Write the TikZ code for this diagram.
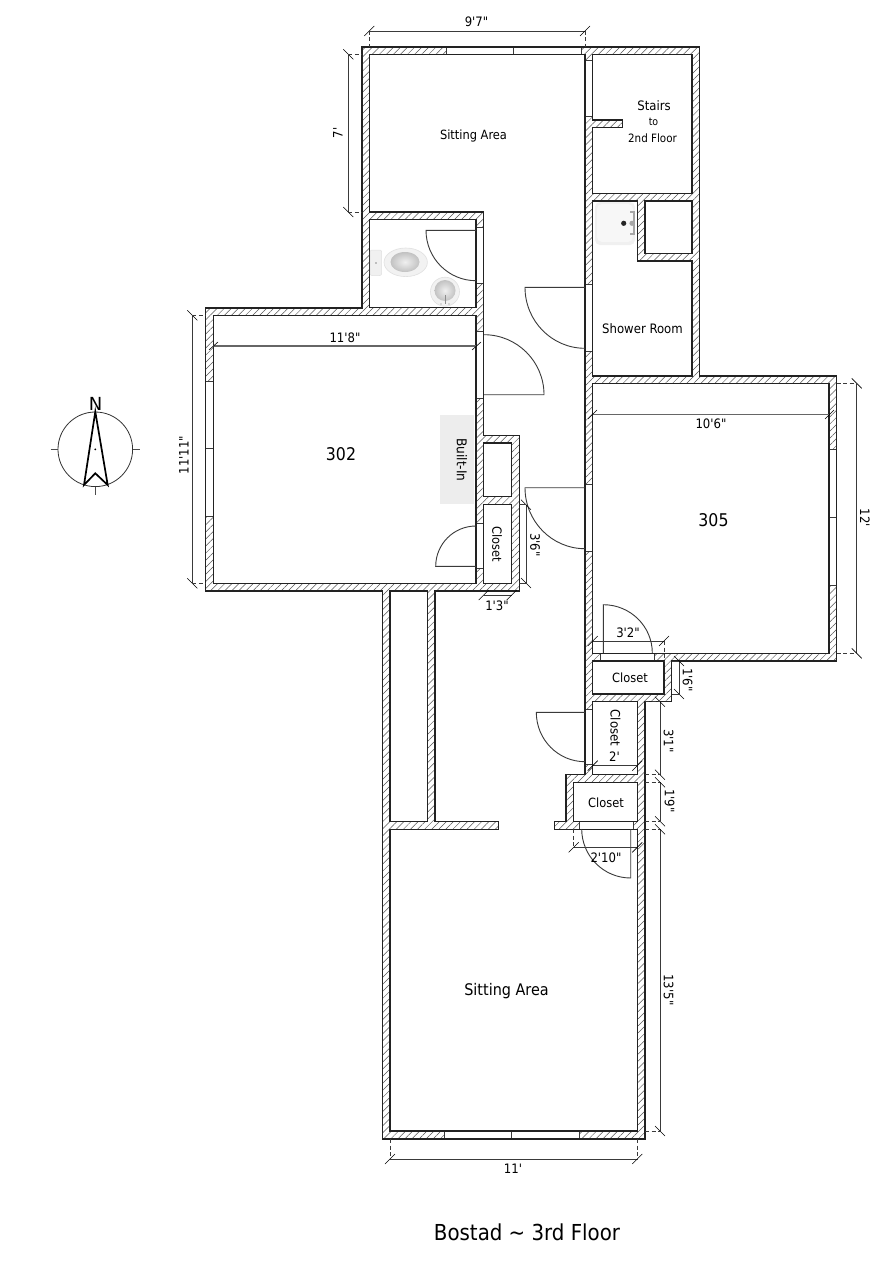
\documentclass[tikz,border=0pt]{standalone}
\usepackage{fontspec}
\usetikzlibrary{patterns.meta}
\newfontfamily\lf{DejaVu Sans Condensed}
\newfontfamily\nf{DejaVu Sans}
\definecolor{wallink}{HTML}{222222}
\definecolor{dimink}{HTML}{3A3A3A}
\definecolor{hatchink}{HTML}{555555}
\tikzset{
  wallfill/.style={even odd rule,pattern={Lines[angle=45,distance=5pt,line width=.5pt]},pattern color=hatchink},
  wallline/.style={draw=wallink,line width=1.1pt,line join=miter},
  opening/.style={fill=white,draw=dimink,line width=.5pt},
  doorline/.style={draw=dimink,line width=.9pt},
  dimline/.style={draw=dimink,line width=.8pt},
  tickline/.style={draw=black,line width=.6pt},
  extline/.style={draw=dimink,line width=.7pt,dash pattern=on 4pt off 2.5pt},
}
\newcommand{\walls}{
  (362,47) -- (699.3,47) -- (699.3,376) -- (836.7,376) -- (836.7,661) -- (671.5,661) -- (671.5,701.7) -- (645,701.7) -- (645,1139) -- (382.7,1139) -- (382.7,591) -- (205.7,591) -- (205.7,308) -- (362,308) -- cycle
  (369.3,54.3) -- (585,54.3) -- (585,774.7) -- (566,774.7) -- (566,821.3) -- (554.7,821.3) -- (554.7,829.3) -- (637.3,829.3) -- (637.3,1131) -- (390,1131) -- (390,829.3) -- (498.7,829.3) -- (498.7,821.3) -- (435,821.3) -- (435,591) -- (519.3,591) -- (519.3,435.3) -- (483.7,435.3) -- (483.7,212) -- (369.3,212) -- cycle
  (369.3,219.7) rectangle (476,307.3)
  (213.3,315.3) rectangle (476,583.3)
  (483.7,443) rectangle (511.7,496.7)
  (483.7,504.7) rectangle (511.7,583.3)
  (390,591) rectangle (427.3,821.3)
  (592.3,54.3) -- (692,54.3) -- (692,193.3) -- (592.3,193.3) -- (592.3,127.7) -- (622.7,127.7) -- (622.7,120) -- (592.3,120) -- cycle
  (592.3,201) -- (637.3,201) -- (637.3,261) -- (692,261) -- (692,376) -- (592.3,376) -- cycle
  (645,201) rectangle (692,253.3)
  (592.5,383.3) rectangle (829,653.3)
  (592.5,661) rectangle (664,694)
  (592.5,701.7) rectangle (637.3,774.7)
  (573.7,782.3) rectangle (637.3,821.3)
}
\newcommand{\vwin}[3]{\path[opening] (#1,#2) rectangle ({#1+7.6},#3);}
\newcommand{\hwin}[3]{\path[opening] (#2,#1) rectangle (#3,{#1+7.6});}
\newcommand{\doorh}[4]{\path[doorline] (#1,#2) -- ({#1+#3},#2) .. controls ({#1+#3},{#2+.5523*#4}) and ({#1+.5523*#3},{#2+#4}) .. (#1,{#2+#4});}
\newcommand{\doorv}[4]{\path[doorline] (#1,#2) -- (#1,{#2+#4}) .. controls ({#1+.5523*#3},{#2+#4}) and ({#1+#3},{#2+.5523*#4}) .. ({#1+#3},#2);}
\newcommand{\dimh}[3]{\path[dimline] (#1,#3) -- (#2,#3);
  \path[tickline] ({#1-5},{#3+5}) -- ({#1+5},{#3-5}) ({#2-5},{#3+5}) -- ({#2+5},{#3-5});}
\newcommand{\dimv}[3]{\path[dimline] (#1,#2) -- (#1,#3);
  \path[tickline] ({#1-5},{#2-5}) -- ({#1+5},{#2+5}) ({#1-5},{#3-5}) -- ({#1+5},{#3+5});}
\newcommand{\lab}[6]{\node[inner sep=0pt,rotate=#5,font=\lf\fontsize{#4}{#4}\selectfont] (#1) at (#2,#3) {#6};}
\begin{document}
\begin{tikzpicture}[x=1pt,y=-1pt]
\path[use as bounding box,fill=white] (0,0) rectangle (875,1268);
% built-in shelf backdrop
\path[fill=black!7] (440,415) rectangle (474,504);
% walls
\path[wallfill] \walls;
% openings
\hwin{46.7}{446}{581.3}
\hwin{46.7}{513.7}{581.3}
\hwin{1131.2}{444}{579.3}
\hwin{1131.2}{511.7}{579.3}
\vwin{205.7}{381}{516}
\vwin{205.7}{448.7}{516}
\vwin{829.1}{449.3}{585}
\vwin{829.1}{517.3}{585}
\vwin{585}{60}{116.7}
\vwin{476}{227.3}{283.3}
\vwin{476}{331.7}{398.7}
\vwin{476}{523.3}{568.3}
\vwin{585}{284}{351.7}
\vwin{585}{484.3}{551.7}
\vwin{585}{709.3}{764}
\hwin{653.4}{600.7}{654}
\hwin{821.5}{579.3}{633.3}
\path[wallline,even odd rule] \walls;
% doors
\doorh{476}{230.3}{-50}{50.4}
\doorh{585}{287.3}{-60}{61}
\doorh{484}{394.7}{60}{-60}
\doorh{585}{487.7}{-60}{61}
\doorh{476}{566.3}{-40.3}{-40.3}
\doorh{585}{712.3}{-48.7}{49.4}
\doorv{603.3}{653}{49}{-48.3}
\doorv{630.7}{829}{-49}{49}
% toilet
\path[fill=black!6,draw=black!12,line width=.5pt,rounded corners=2pt] (370,250) rectangle (381.7,275.5);
\path[fill=black!45] (376,263) circle (.9);
\path[fill=black!5,draw=black!12,line width=.6pt] (405.7,262.3) ellipse [x radius=21.7,y radius=14.3];
\path[inner color=black!6,outer color=black!24] (405,262) ellipse [x radius=14.5,y radius=10];
% basin
\path[fill=black!5,draw=black!12,line width=.6pt] (445,291.7) ellipse [x radius=14.5,y radius=14.5];
\path[inner color=black!6,outer color=black!24] (445,290.5) ellipse [x radius=10.5,y radius=10.5];
\path[draw=black!45,line width=.8pt] (445,295) -- (445,304);
\path[fill=black!50] (441,304) circle (.7) (449,304) circle (.7);
% sink
\path[fill=black!6,rounded corners=5pt] (595,202) rectangle (635,245);
\path[fill=black!3,rounded corners=5pt] (597,204) rectangle (633,242);
\path[fill=black!85] (623.7,223.3) circle (2.6);
\path[draw=black!35,line width=1.6pt] (630,212) -- (634,212) -- (634,234) -- (630,234);
\path[fill=black!35] (632,223.3) circle (2.6);
% dimensions
\dimh{369.3}{585}{31}
\path[extline] (369.3,31) -- (369.3,47) (585,31) -- (585,47);
\lab{dTop}{476.5}{22}{13}{0}{9'7"}
\dimv{348.3}{54.3}{212}
\path[extline] (348.3,54.3) -- (362,54.3) (348.3,212) -- (362,212);
\lab{dSeven}{338}{133}{13}{90}{7'}
\dimv{192.3}{315.3}{583.3}
\path[extline] (192.3,315.3) -- (205.7,315.3) (192.3,583.3) -- (205.7,583.3);
\lab{dA}{184}{455}{13}{90}{11'11"}
\path[dimline,line width=1.2pt,draw=black!60] (213.3,346) -- (476,346);
\path[tickline] (209,350) -- (218,342) (472,350) -- (481,342);
\lab{dB}{345}{337.5}{13}{0}{11'8"}
\path[dimline,line width=1.2pt,draw=black!60] (592.7,414.7) -- (829,414.7);
\path[tickline] (588,419) -- (597,410) (825,419) -- (834,410);
\lab{dC}{711}{424}{13}{0}{10'6"}
\dimv{856.7}{383.3}{653.3}
\path[extline] (836.7,383.3) -- (856.7,383.3) (836.7,653.3) -- (856.7,653.3);
\lab{dD}{865}{518}{13}{-90}{12'}
\dimv{526}{504.7}{583}
\path[dimline,line width=.5pt] (519.3,504.7) -- (526,504.7) (519.3,583) -- (526,583);
\lab{dE}{535}{545}{13}{-90}{3'6"}
\dimh{483.7}{511.7}{595}
\lab{dF}{497}{605.5}{13}{0}{1'3"}
\dimh{592.7}{664}{641}
\path[extline] (664,641) -- (664,661);
\lab{dG}{628}{633}{13}{0}{3'2"}
\dimv{679}{661}{694}
\path[dimline,line width=.5pt] (671.5,661) -- (679,661) (671.5,694) -- (679,694);
\lab{dH}{687.5}{680}{13}{-90}{1'6"}
\dimv{660}{701.7}{774.7}
\path[extline] (645,701.7) -- (660,701.7) (645,774.7) -- (660,774.7);
\lab{dI}{668.5}{741}{13}{-90}{3'1"}
\dimh{592.7}{637.3}{765.7}
\lab{dJ}{614.5}{757}{13}{0}{2'}
\dimv{660}{782.3}{821.3}
\path[extline] (645,782.3) -- (660,782.3) (645,821.3) -- (660,821.3);
\lab{dK}{669.5}{801}{13}{-90}{1'9"}
\dimv{660}{829.3}{1131}
\path[extline] (645,829.3) -- (660,829.3) (645,1131) -- (660,1131);
\lab{dL}{668.5}{990}{13}{-90}{13'5"}
\dimh{573.7}{637.3}{847.3}
\path[extline] (573.7,829.3) -- (573.7,847.3);
\lab{dM}{606}{858}{13}{0}{2'10"}
\dimh{390}{637.3}{1159}
\path[extline] (390,1139) -- (390,1159) (637.3,1139) -- (637.3,1159);
\lab{dN}{513}{1169}{13}{0}{11'}
% room labels
\lab{rA}{473.5}{136}{12.7}{0}{Sitting Area}
\lab{rB}{654}{105.5}{13}{0}{Stairs}
\lab{rC}{653.5}{122}{10.5}{0}{to}
\lab{rD}{652.5}{138}{11.5}{0}{2nd Floor}
\lab{rE}{642.5}{328.5}{13}{0}{Shower Room}
\lab{rF}{341}{454}{17.5}{0}{302}
\lab{rG}{713.5}{520.5}{17.5}{0}{305}
\lab{rH}{630}{678}{12.7}{0}{Closet}
\lab{rI}{615.5}{728}{13}{-90}{Closet}
\lab{rJ}{462}{460}{13.5}{-90}{Built-In}
\lab{rK}{497}{544.5}{12.7}{-90}{Closet}
\lab{rL}{606}{803}{12.7}{0}{Closet}
\lab{rM}{506.5}{991}{16}{0}{Sitting Area}
\lab{rN}{527}{1232}{22}{0}{Bostad {\char126} 3rd Floor}
% compass
\path[draw=black!80,line width=.8pt] (95.3,449.3) circle (37.3);
\path[draw=black!70,line width=.7pt] (50.7,449.3) -- (58,449.3) (132.7,449.3) -- (140,449.3) (95.3,486.6) -- (95.3,495);
\path[draw=black,line width=1.7pt,line join=miter] (95.3,411.7) -- (107.7,485) -- (95.3,473.3) -- (84,485) -- cycle;
\path[fill=black] (95.3,449.3) circle (1);
\node[inner sep=0pt,font=\nf\fontsize{18}{18}\selectfont] (nN) at (95.5,403.5) {N};
\end{tikzpicture}
\end{document}
